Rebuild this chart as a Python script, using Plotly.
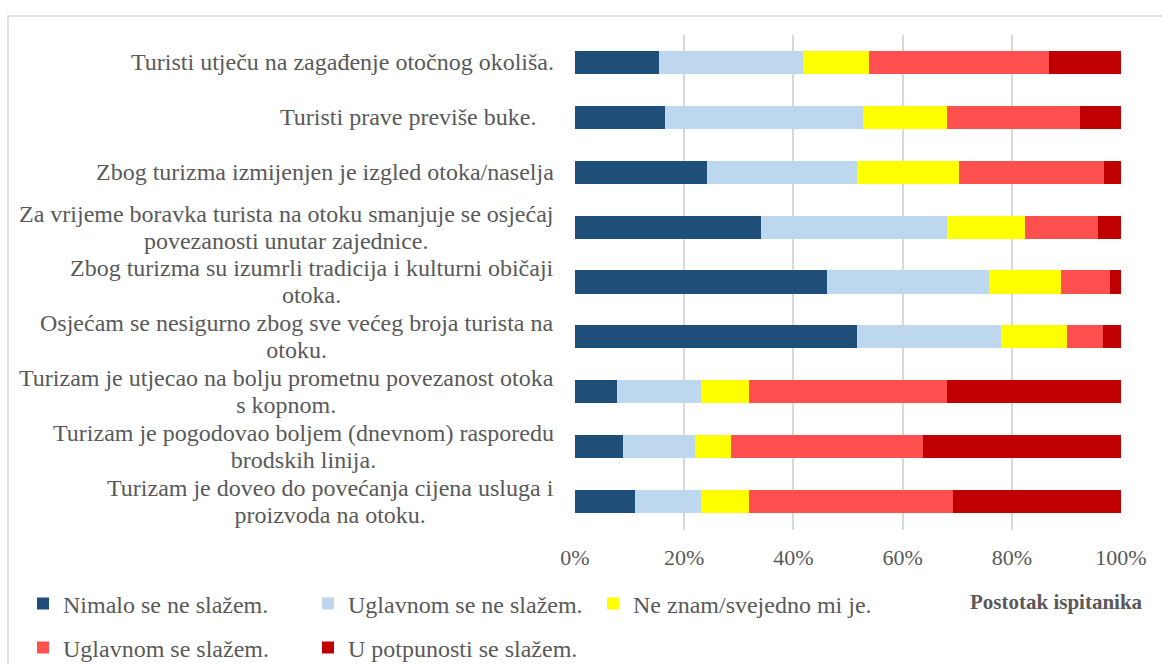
import plotly.graph_objects as go

# Statements, listed top to bottom
statements = [
    "Turisti utječu na zagađenje otočnog okoliša.",
    "Turisti prave previše buke.\u00a0\u00a0\u00a0",
    "Zbog turizma izmijenjen je izgled otoka/naselja",
    "Za vrijeme boravka turista na otoku smanjuje se osjećaj<br>povezanosti unutar zajednice.",
    "Zbog turizma su izumrli tradicija i kulturni običaji<br>otoka.",
    "Osjećam se nesigurno zbog sve većeg broja turista na<br>otoku.",
    "Turizam je utjecao na bolju prometnu povezanost otoka<br>s kopnom.",
    "Turizam je pogodovao boljem (dnevnom) rasporedu<br>brodskih linija.",
    "Turizam je doveo do povećanja cijena usluga i<br>proizvoda na otoku.",
]

# Share of respondents (%) per answer
nimalo = [15.4, 16.5, 24.2, 34.1, 46.2, 51.6, 7.7, 8.8, 11.0]
uglavnom_ne = [26.4, 36.3, 27.5, 34.1, 29.7, 26.4, 15.4, 13.2, 12.1]
ne_znam = [12.1, 15.4, 18.7, 14.3, 13.2, 12.1, 8.8, 6.6, 8.8]
uglavnom_da = [33.0, 24.2, 26.4, 13.2, 8.8, 6.6, 36.3, 35.2, 37.4]
potpuno = [13.2, 7.7, 3.3, 4.4, 2.2, 3.3, 31.9, 36.3, 30.8]

series_names = [
    "Nimalo se ne slažem.",
    "Uglavnom se ne slažem.",
    "Ne znam/svejedno mi je.",
    "Uglavnom se slažem.",
    "U potpunosti se slažem.",
]
series_values = [nimalo, uglavnom_ne, ne_znam, uglavnom_da, potpuno]
series_colors = ["#1F4E79", "#BDD7EE", "#FFFF00", "#FF5050", "#C00000"]
legend_ids = ["legend", "legend", "legend", "legend2", "legend2"]

tick_vals = [0, 20, 40, 60, 80, 100]
tick_text = ["0%", "20%", "40%", "60%", "80%", "100%"]
axis_title = "Postotak ispitanika"

FONT = "Liberation Serif, Times New Roman, serif"
GREY = "#595959"

W, H = 1162, 664
L, R, T, B = 575, 41, 35, 134
PW, PH = W - L - R, H - T - B


def px_x(x):
    """pixel column -> paper x"""
    return (x - L) / PW


def px_y(y):
    """pixel row -> paper y"""
    return (H - B - y) / PH


def label_markup(text):
    # 24px glyphs, but line pitch taken from the smaller base font size
    lines = text.split("<br>")
    return "<br>".join('<span style="font-size:24px">%s</span>' % ln for ln in lines)


fig = go.Figure()
for name, vals, col, lg in zip(series_names, series_values, series_colors, legend_ids):
    fig.add_trace(go.Bar(
        y=statements, x=vals, name=name, orientation="h",
        marker=dict(color=col, line=dict(width=0)),
        legend=lg, hoverinfo="x+name",
    ))

# statement labels: right-aligned block, lines centred within it
for s in statements:
    fig.add_annotation(
        x=0, xref="paper", y=s, yref="y", text=label_markup(s),
        xanchor="right", yanchor="middle", align="center",
        xshift=-19, showarrow=False,
        font=dict(family=FONT, size=21, color=GREY),
    )

fig.add_annotation(
    x=px_x(1145), xref="paper", y=px_y(602), yref="paper",
    xanchor="right", yanchor="middle", text="<b>" + axis_title + "</b>",
    showarrow=False, font=dict(family=FONT, size=21, color=GREY),
)

# outer chart frame
fig.add_shape(
    type="rect", xref="paper", yref="paper",
    x0=px_x(8), x1=px_x(1200),
    y0=px_y(700), y1=px_y(16),
    line=dict(color="#D9D9D9", width=1.5), fillcolor="rgba(0,0,0,0)",
    layer="below",
)

legend_common = dict(
    orientation="h", xref="paper", yref="paper",
    xanchor="left", yanchor="middle",
    font=dict(family=FONT, size=24, color=GREY),
    entrywidth=240, entrywidthmode="pixels",
    bgcolor="rgba(0,0,0,0)", traceorder="normal",
    itemclick=False, itemdoubleclick=False,
)

fig.update_layout(
    width=W, height=H,
    margin=dict(l=L, r=R, t=T, b=B, autoexpand=False),
    paper_bgcolor="white", plot_bgcolor="white",
    barmode="stack", bargap=0.58,
    font=dict(family=FONT, color=GREY),
    legend=dict(x=px_x(23), y=px_y(604), **legend_common),
    legend2=dict(x=px_x(23), y=px_y(648), **legend_common),
    xaxis=dict(
        range=[0, 100], tickvals=tick_vals, ticktext=tick_text,
        showgrid=True, gridcolor="#D9D9D9", gridwidth=1.5,
        zeroline=False, showline=False, ticks="",
        ticklabelstandoff=12,
        tickfont=dict(family=FONT, size=22, color=GREY),
        fixedrange=True,
    ),
    yaxis=dict(
        autorange="reversed", showticklabels=False, showgrid=False,
        zeroline=False, showline=False, ticks="", fixedrange=True,
    ),
)

fig.write_html("out.html")
